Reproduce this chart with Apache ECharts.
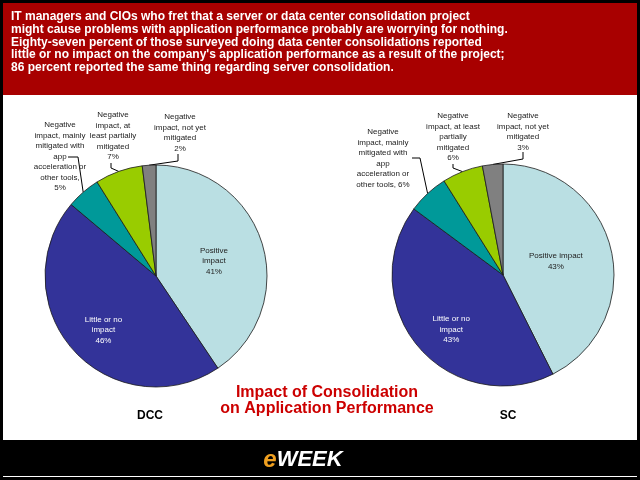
<!DOCTYPE html>
<html>
<head>
<meta charset="utf-8">
<script src="https://cdn.jsdelivr.net/npm/echarts@6/dist/echarts.min.js"></script>
<style>
  html, body { margin: 0; padding: 0; background: #000; }
  #chart { width: 640px; height: 480px; }
</style>
</head>
<body>
<div id="chart"></div>
<script>
// categories, same order for both pies (clockwise from 12 o'clock)
var categories = [
    'Positive impact',
    'Little or no impact',
    'Negative impact, mainly mitigated with app acceleration or other tools',
    'Negative impact, at least partially mitigated',
    'Negative impact, not yet mitigated'
];
var dccValues = [41, 46, 5, 7, 2];
var scValues = [43, 43, 6, 6, 3];

// label text as broken in the picture, value gets appended
var dccLabels = ['Positive\nimpact\n', 'Little or no\nimpact\n',
    'Negative\nimpact, mainly\nmitigated with\napp\nacceleration or\nother tools,\n',
    'Negative\nimpact, at\nleast partially\nmitigated\n',
    'Negative\nimpact, not yet\nmitigated\n'];
var scLabels = ['Positive impact\n', 'Little or no\nimpact\n',
    'Negative\nimpact, mainly\nmitigated with\napp\nacceleration or\nother tools, ',
    'Negative\nimpact, at least\npartially\nmitigated\n',
    'Negative\nimpact, not yet\nmitigated\n'];

var sliceColors = ['#badfe3', '#333399', '#009999', '#99cc00', '#808080'];

var headerLines = [
    'IT managers and CIOs who fret that a server or data center consolidation project',
    'might cause problems with application performance probably are worrying for nothing.',
    'Eighty-seven percent of those surveyed doing data center consolidations reported',
    "little or no impact on the company's application performance as a result of the project;",
    '86 percent reported the same thing regarding server consolidation.'
];

// callout placement: inner labels get a nudge, outer ones sit above the pie
var dccSpots = [
    { dx: 2, dy: 2 },
    { dx: -9, dy: 15 },
    { x: 60, y: 120, line: [[68, 157], [78, 157]] },
    { x: 113, y: 110, line: [[111, 163], [111, 168]] },
    { x: 180, y: 112, line: [[178, 154], [178, 161]] }
];
var scSpots = [
    { dx: -4, dy: 0 },
    { dx: -7, dy: 17 },
    { x: 383, y: 127, line: [[412, 158], [420, 158]] },
    { x: 453, y: 111, line: [[453, 164], [453, 168]] },
    { x: 523, y: 111, line: [[523, 152], [523, 159]] }
];

function calloutLayout(spots) {
    return function (params) {
        var s = spots[params.dataIndex];
        if (s.x == null) {
            return { dx: s.dx, dy: s.dy };
        }
        return {
            x: s.x,
            y: s.y,
            align: 'center',
            verticalAlign: 'top',
            labelLinePoints: [params.labelLinePoints[0], s.line[1], s.line[0]]
        };
    };
}

function pieData(values, labels) {
    return values.map(function (v, i) {
        var item = {
            value: v,
            name: categories[i],
            itemStyle: { color: sliceColors[i] },
            label: { formatter: labels[i] + v + '%' }
        };
        if (i < 2) {
            item.label.position = 'inside';
            item.label.color = i == 1 ? '#ffffff' : '#222222';
        }
        return item;
    });
}

function pieSeries(center, values, labels, spots) {
    return {
        type: 'pie',
        center: center,
        radius: 111,
        startAngle: 90,
        clockwise: true,
        avoidLabelOverlap: false,
        animation: false,
        itemStyle: { borderColor: '#1a1a1a', borderWidth: 0.8 },
        emphasis: { disabled: true },
        label: {
            position: 'outside',
            color: '#222222',
            fontFamily: 'Liberation Sans',
            fontSize: 8,
            lineHeight: 10.5
        },
        labelLine: { show: true, lineStyle: { color: '#000', width: 1 } },
        labelLayout: calloutLayout(spots),
        data: pieData(values, labels)
    };
}

var myChart = echarts.init(document.getElementById('chart'));
var option = {
    backgroundColor: '#000',
    graphic: [
        { type: 'rect', shape: { x: 3, y: 3, width: 634, height: 92 }, style: { fill: '#a80000' } },
        { type: 'rect', shape: { x: 3, y: 95, width: 634, height: 345 }, style: { fill: '#ffffff' } },
        { type: 'rect', shape: { x: 3, y: 476, width: 634, height: 1 }, style: { fill: '#ffffff' } },
        {
            type: 'text', x: 11, y: 10,
            style: {
                text: headerLines.join('\n'),
                fill: '#ffffff',
                font: 'bold 12px "Liberation Sans", Arial, sans-serif',
                lineHeight: 12.9
            }
        },
        {
            type: 'text', x: 327, y: 385,
            style: {
                text: 'Impact of Consolidation\non Application Performance',
                fill: '#cc0000',
                font: 'bold 16px "Liberation Sans", Arial, sans-serif',
                lineHeight: 16,
                align: 'center'
            }
        },
        {
            type: 'text', x: 150, y: 416,
            style: { text: 'DCC', fill: '#000', font: 'bold 12px "Liberation Sans", Arial, sans-serif', align: 'center', verticalAlign: 'middle' }
        },
        {
            type: 'text', x: 508, y: 416,
            style: { text: 'SC', fill: '#000', font: 'bold 12px "Liberation Sans", Arial, sans-serif', align: 'center', verticalAlign: 'middle' }
        },
        {
            type: 'text', x: 303, y: 460,
            style: {
                text: '{e|e}{w|WEEK}',
                align: 'center',
                verticalAlign: 'middle',
                rich: {
                    e: { fill: '#f0a020', font: 'italic bold 24px "Liberation Sans", Arial, sans-serif' },
                    w: { fill: '#ffffff', font: 'italic bold 22px "Liberation Sans", Arial, sans-serif' }
                }
            }
        }
    ],
    series: [
        pieSeries([156, 276], dccValues, dccLabels, dccSpots),
        pieSeries([503, 275], scValues, scLabels, scSpots)
    ]
};
myChart.setOption(option);
</script>
</body>
</html>
